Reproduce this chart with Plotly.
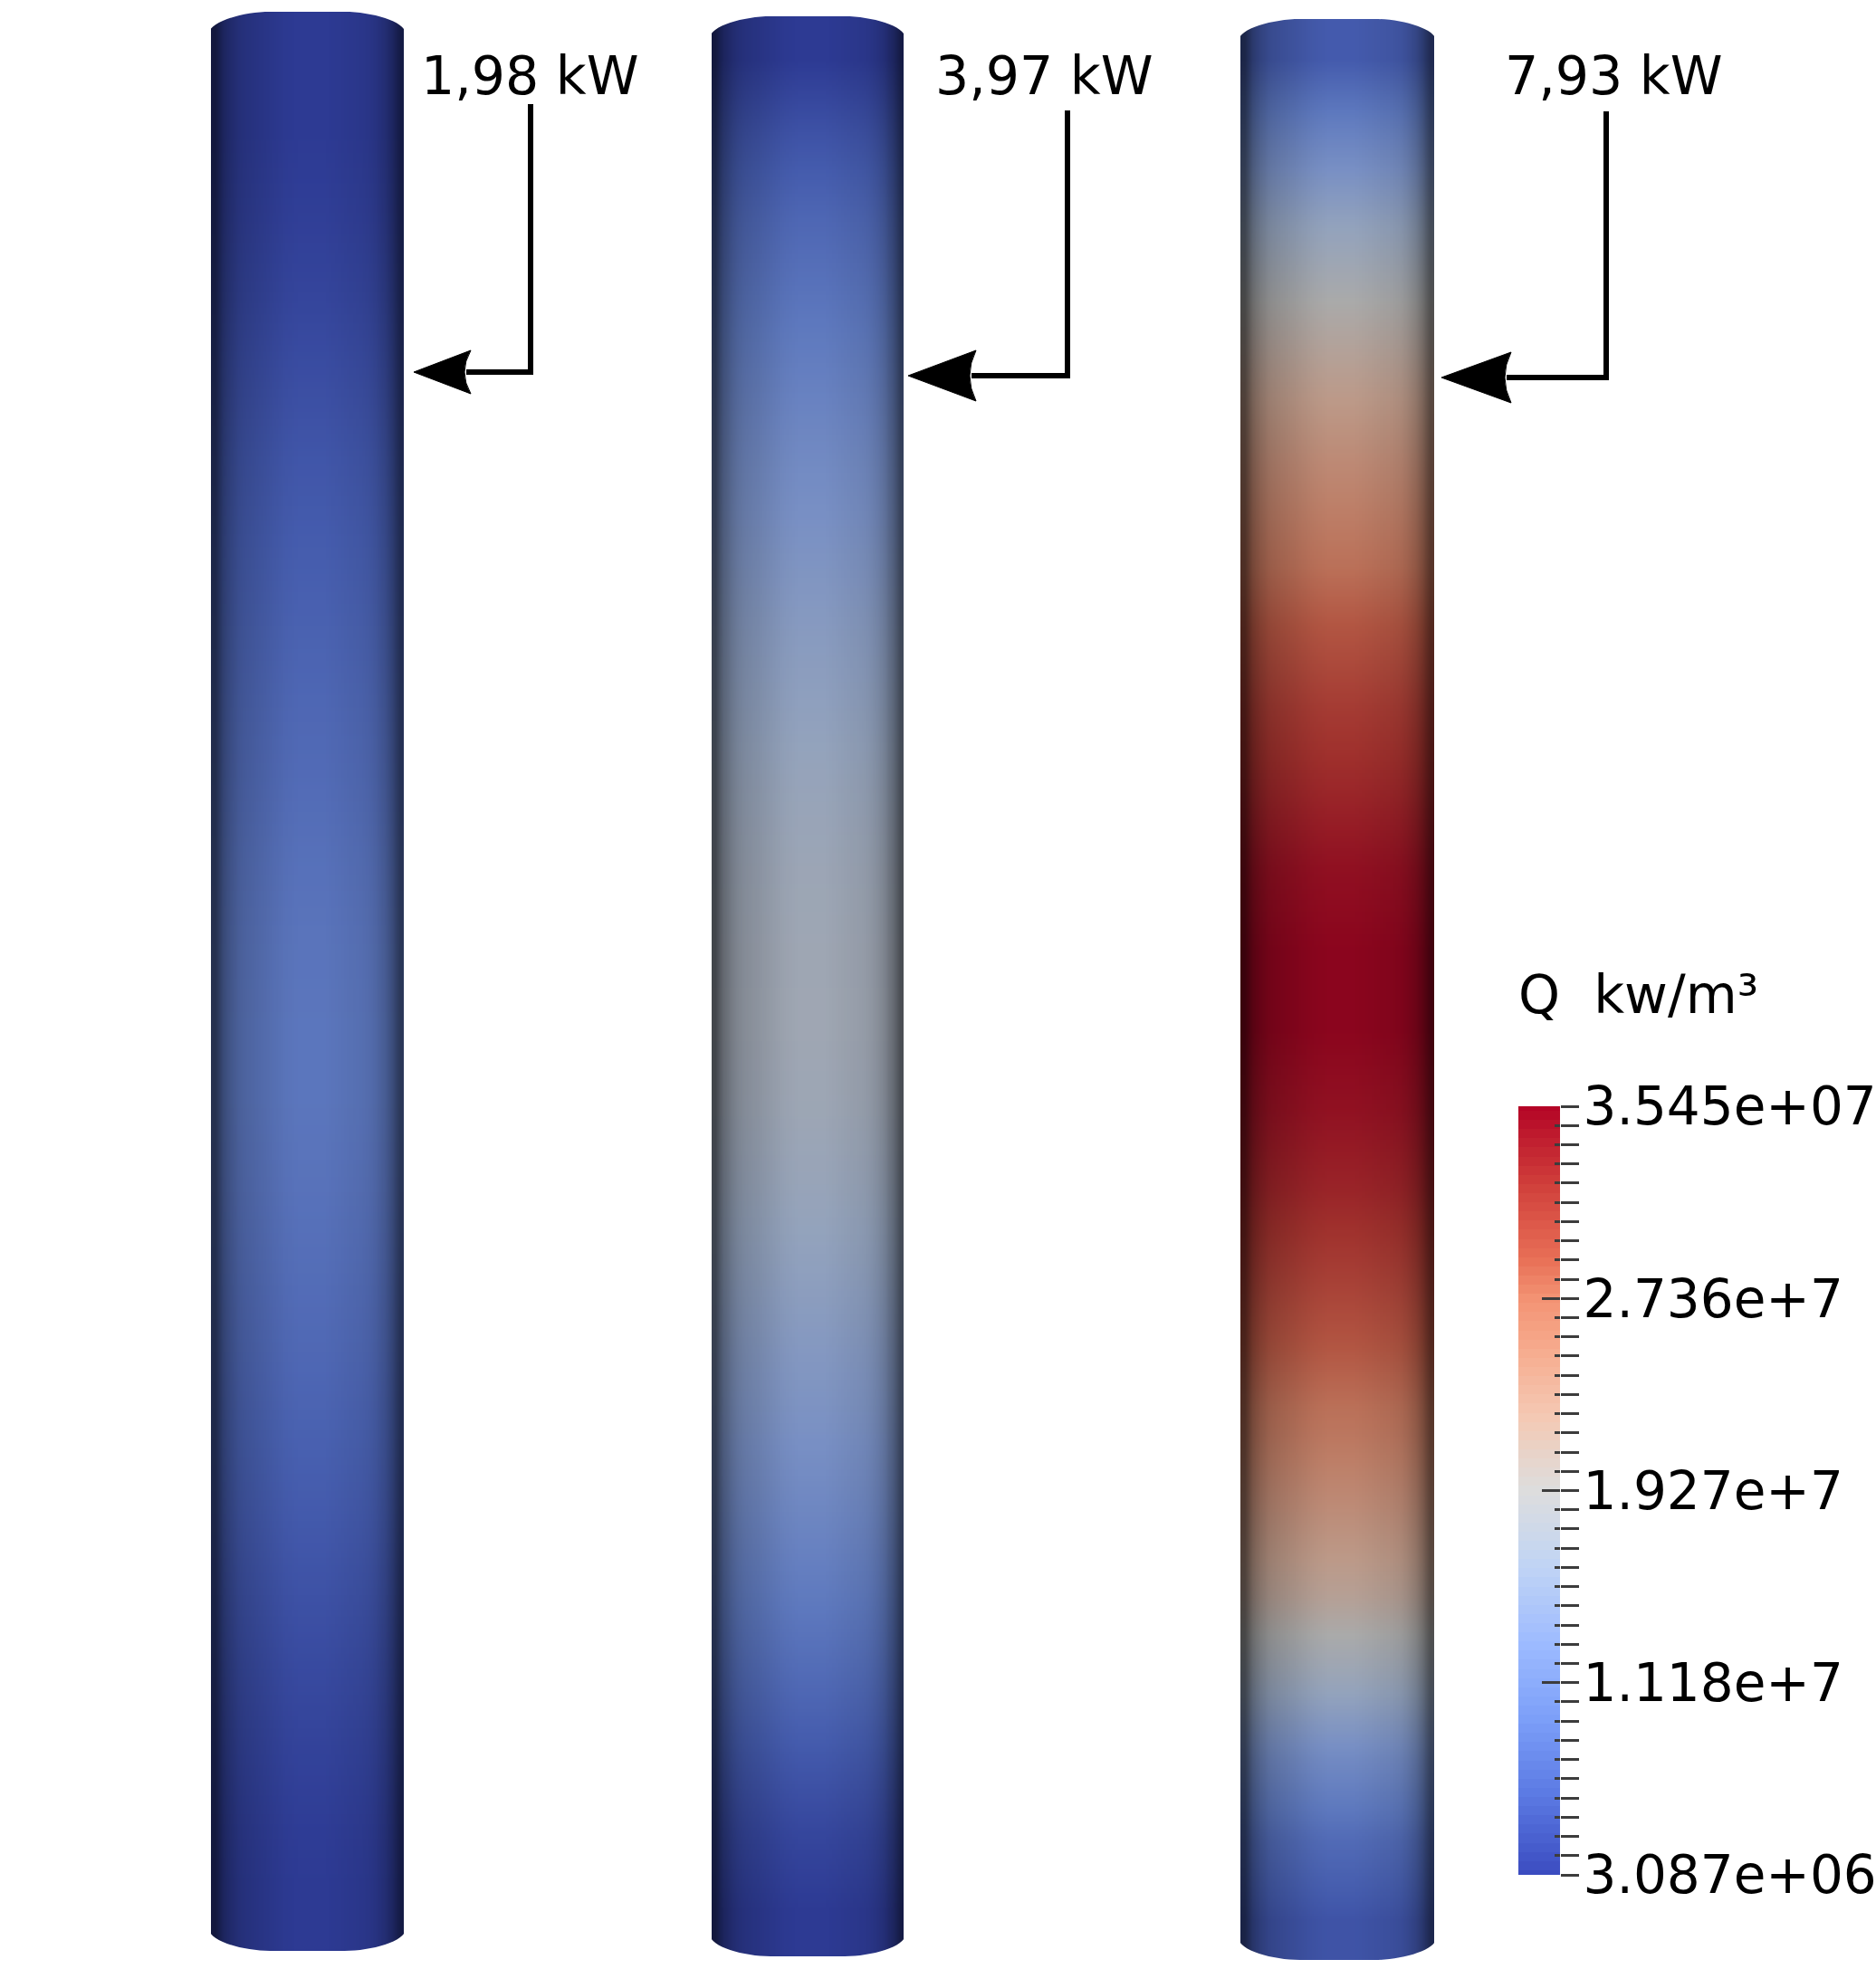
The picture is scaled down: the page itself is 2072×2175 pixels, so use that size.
import numpy as np
import plotly.graph_objects as go

# ---- data -------------------------------------------------------------
power_labels = ["1,98 kW", "3,97 kW", "7,93 kW"]

# Q along each rod, top to bottom, in units of 1e7
q_rod_1 = [0.30, 0.31, 0.35, 0.41, 0.49, 0.57, 0.63, 0.69, 0.75, 0.80, 0.86, 0.90,
           0.92, 0.92, 0.88, 0.83, 0.77, 0.70, 0.62, 0.54, 0.46, 0.39, 0.33, 0.30]
q_rod_2 = [0.30, 0.55, 0.75, 0.90, 1.05, 1.20, 1.32, 1.45, 1.55, 1.65, 1.72, 1.76,
           1.77, 1.74, 1.66, 1.55, 1.42, 1.30, 1.15, 0.98, 0.80, 0.60, 0.42, 0.30]
q_rod_3 = [0.62, 1.12, 1.57, 1.93, 2.20, 2.45, 2.67, 2.90, 3.12, 3.28, 3.45, 3.53,
           3.53, 3.44, 3.30, 3.10, 2.88, 2.66, 2.40, 2.13, 1.70, 1.20, 0.80, 0.55]
rods = [q_rod_1, q_rod_2, q_rod_3]

# darkening across a rod, left to right (surface lighting)
shade_across = [0.68, 0.52, 0.44, 0.38, 0.35, 0.33, 0.31, 0.29, 0.27, 0.25, 0.24, 0.23, 0.23,
                0.23, 0.23, 0.24, 0.25, 0.26, 0.27, 0.28, 0.30, 0.34, 0.40, 0.50, 0.64]

q_min, q_max = 3.087e6, 3.545e7
tick_values = [3.087e6, 1.118e7, 1.927e7, 2.736e7, 3.545e7]
tick_labels = ["3.087e+06", "1.118e+7", "1.927e+7", "2.736e+7", "3.545e+07"]
legend_bands = 85

cool_warm = [[0.0, "rgb(59,76,192)"], [0.1, "rgb(90,120,226)"], [0.2, "rgb(123,158,248)"],
             [0.3, "rgb(157,187,255)"], [0.4, "rgb(192,212,245)"], [0.5, "rgb(221,221,221)"],
             [0.6, "rgb(245,200,178)"], [0.7, "rgb(246,165,135)"], [0.75, "rgb(243,146,115)"],
             [0.8, "rgb(232,112,87)"], [0.9, "rgb(207,62,58)"], [1.0, "rgb(180,4,38)"]]

# ---- layout geometry (page pixels) --------------------------------------
W, H = 2072, 2175
rod_boxes = [(233, 446, 13, 2155), (786, 998, 18, 2161), (1370, 1584, 21, 2165)]
cap_h = 24
arrow_geo = [  # tip x, y, back x, half height, elbow x, top y
    (457, 411, 520, 24, 586, 115),
    (1003, 415, 1078, 28, 1179, 122),
    (1592, 417, 1669, 28, 1774, 123),
]
label_pos = [(463, 84), (1031, 84), (1660, 84)]
bar = (1677, 1723, 1222, 2071)
FONT = "DejaVu Sans"
FS = 58.5

fig = go.Figure()
shapes = []
for (x0, x1, y0, y1), q in zip(rod_boxes, rods):
    n = len(q)
    y_edges = np.linspace(y0, y1, n + 1)
    fig.add_trace(go.Heatmap(
        x=[x0, (x0 + x1) / 2, x1], y=y_edges, z=[[v * 1e7, v * 1e7] for v in q],
        coloraxis="coloraxis", zsmooth="best", hoverinfo="skip"))
    m = len(shade_across)
    fig.add_trace(go.Heatmap(
        x=np.linspace(x0, x1, m + 1), y=[y0, (y0 + y1) / 2, y1], z=[shade_across, shade_across],
        zmin=0, zmax=1, showscale=False, zsmooth="best", hoverinfo="skip",
        colorscale=[[0, "rgba(0,0,0,0)"], [1, "rgba(0,0,0,1)"]]))
    cx, rx = (x0 + x1) / 2, (x1 - x0) / 2 + 2
    for (sx, top, sh, out) in [(x0 - 2, y0, y0 + cap_h, -3), (x1 + 2, y0, y0 + cap_h, -3),
                               (x0 - 2, y1, y1 - cap_h, 3), (x1 + 2, y1, y1 - cap_h, 3)]:
        d = (1 if sx < cx else -1)
        shapes.append(dict(
            type="path", xref="x", yref="y", layer="above", line=dict(width=0), fillcolor="white",
            path=(f"M {sx},{top + out} L {sx},{sh} "
                  f"C {sx},{sh + (top - sh) * 0.55} {sx + d * rx * 0.35},{top} {sx + d * rx * 0.62},{top} "
                  f"L {cx},{top} L {cx},{top + out} Z")))

for (tx, ty, bx, hh, ex, ey) in arrow_geo:
    notch = bx - 7
    ctrl = 2 * notch - bx
    shapes.append(dict(type="path", xref="x", yref="y", layer="above",
                       line=dict(color="black", width=6),
                       path=f"M {ex},{ey} L {ex},{ty} L {notch + 2},{ty}"))
    shapes.append(dict(type="path", xref="x", yref="y", layer="above", fillcolor="black",
                       line=dict(color="black", width=1),
                       path=f"M {tx},{ty} L {bx},{ty - hh} Q {ctrl},{ty} {bx},{ty + hh} Z"))

# colour legend as a real axis in Q units
band_values = np.linspace(q_min, q_max, legend_bands)
fig.add_trace(go.Heatmap(x=[0, 1], y=band_values, z=[[v] for v in band_values],
                         coloraxis="coloraxis", xaxis="x2", yaxis="y2", hoverinfo="skip"))

all_ticks = list(np.linspace(q_min, q_max, 41))
all_text = [""] * 41
for i, lab in zip([0, 10, 20, 30, 40], tick_labels):
    all_text[i] = lab

annotations = [dict(x=x, y=y, xref="x", yref="y", text=t, showarrow=False, xanchor="left",
                    yanchor="middle", font=dict(family=FONT, size=FS, color="black"))
               for t, (x, y) in zip(power_labels, label_pos)]
annotations.append(dict(x=1675, y=1099, xref="x", yref="y", text="Q\u00a0\u00a0kw/m³", showarrow=False,
                        xanchor="left", yanchor="middle",
                        font=dict(family=FONT, size=FS, color="black")))

tick_col = "rgb(60,60,60)"
# invisible carrier for the overlay axis
fig.add_trace(go.Scatter(x=[0], y=[q_min], xaxis="x2", yaxis="y3", mode="markers",
                         marker=dict(opacity=0), hoverinfo="skip", showlegend=False))

fig.update_layout(
    template="none",
    width=W, height=H, margin=dict(l=0, r=0, t=0, b=0, autoexpand=False), autosize=False,
    paper_bgcolor="white", plot_bgcolor="rgba(0,0,0,0)", showlegend=False,
    font=dict(family=FONT, color="black"),
    coloraxis=dict(colorscale=cool_warm, cmin=q_min, cmax=q_max, showscale=False),
    xaxis=dict(range=[0, W], domain=[0, 1], visible=False, fixedrange=True),
    yaxis=dict(range=[H, 0], domain=[0, 1], visible=False, fixedrange=True),
    xaxis2=dict(domain=[bar[0] / W, bar[1] / W], range=[0, 1], visible=False, anchor="y2"),
    yaxis2=dict(domain=[1 - bar[3] / H, 1 - bar[2] / H], range=[q_min, q_max], anchor="x2", side="right",
                tickmode="array", tickvals=all_ticks, ticktext=all_text, ticks="outside", ticklen=20,
                tickwidth=2.5, tickcolor=tick_col, showgrid=False, zeroline=False, showline=False,
                automargin=False, ticklabelstandoff=-7,
                tickfont=dict(family=FONT, size=58, color="black")),
    yaxis3=dict(overlaying="y2", range=[q_min, q_max], anchor="x2", side="right", automargin=False,
                tickmode="array", tickvals=tick_values, ticktext=[""] * 5, ticks="inside", ticklen=20,
                tickwidth=2.5, tickcolor=tick_col, showgrid=False, zeroline=False, showline=False,
                minor=dict(tickmode="array", tickvals=all_ticks, ticks="inside", ticklen=6,
                           tickwidth=2.5, tickcolor=tick_col, showgrid=False)),
    shapes=shapes, annotations=annotations,
)

fig.write_html("out.html", config=dict(displayModeBar=False),
               post_script="document.body.style.margin='0';")
